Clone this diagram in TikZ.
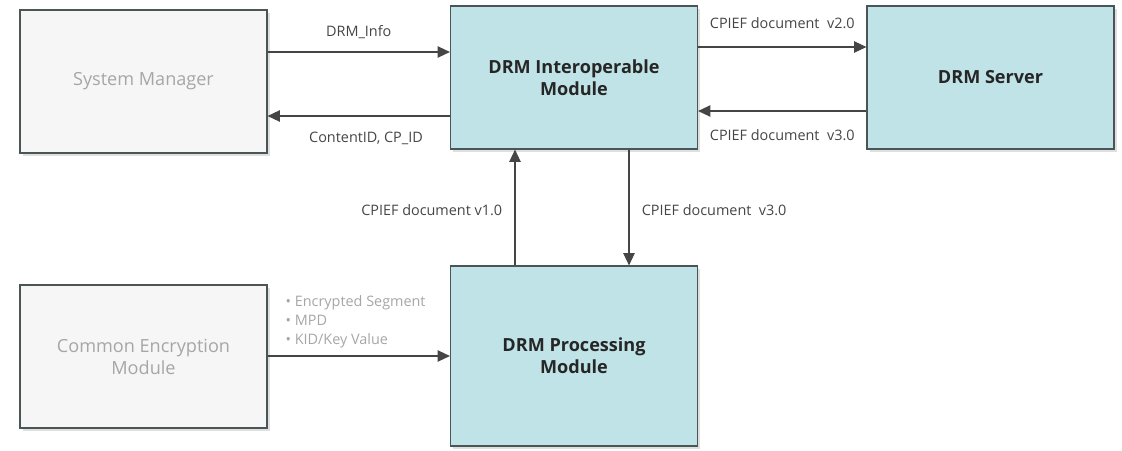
\documentclass[tikz,border=0pt]{standalone}
\usepackage{fontspec}
\setmainfont{Open Sans}
\usetikzlibrary{arrows.meta,positioning,shadows}
\definecolor{boxcyan}{HTML}{BFE3E6}
\definecolor{boxgrey}{HTML}{F6F6F6}
\definecolor{edgegrey}{HTML}{4A5555}
\definecolor{textgrey}{HTML}{A6A6A6}
\definecolor{labelgrey}{HTML}{454545}

\begin{document}
\begin{tikzpicture}
  [x=0.02cm, y=-0.02cm,
   module/.style={shape=rectangle, draw=edgegrey, line width=0.7pt, align=center,
     minimum width=4.94cm, minimum height=2.86cm,
     drop shadow={opacity=0.25, shadow xshift=1.5pt, shadow yshift=-1.5pt}},
   drmbox/.style={module, fill=boxcyan, text=black!85, font=\bfseries\fontsize{10.3}{12.5}\selectfont},
   sidebox/.style={module, fill=boxgrey, text=textgrey, font=\fontsize{10.3}{12.5}\selectfont},
   flow/.style={draw=labelgrey, line width=0.6pt, -{Triangle[length=7pt,width=6.5pt]}},
   flowlabel/.style={text=labelgrey, font=\fontsize{8.2}{10}\selectfont, inner sep=1pt}]
  \useasboundingbox (0,0) rectangle (1122,450);

  % modules
  \node[sidebox] (sysmgr) at (143.5,81.5) {System Manager};
  \node[drmbox] (interop) at (574,77.5) {DRM Interoperable\\Module};
  \node[drmbox] (server) at (990.5,77.5) {DRM Server};
  \node[sidebox] (cenc) at (143.5,356.5) {Common Encryption\\Module};
  \node[drmbox, minimum height=3.6cm] (proc) at (574,356) {DRM Processing\\Module};

  % system manager <-> interoperable module
  \draw[flow] (sysmgr.east |- 0,52) -- (interop.west |- 0,52)
    node[flowlabel, midway, above=6pt] {DRM\_Info};
  \draw[flow] (interop.west |- 0,116) -- (sysmgr.east |- 0,116)
    node[flowlabel, pos=0.46, below=8pt] {ContentID, CP\_ID};

  % interoperable module <-> server
  \draw[flow] (interop.east |- 0,47) -- (server.west |- 0,47)
    node[flowlabel, midway, above=9pt] {CPIEF document\ \ v2.0};
  \draw[flow] (server.west |- 0,111) -- (interop.east |- 0,111)
    node[flowlabel, midway, below=9pt] {CPIEF document\ \ v3.0};

  % interoperable module <-> processing module
  \draw[flow] (proc.north -| 515,0) -- (interop.south -| 515,0)
    node[flowlabel, pos=0.48, left=6pt] {CPIEF document v1.0};
  \draw[flow] (interop.south -| 629,0) -- (proc.north -| 629,0)
    node[flowlabel, pos=0.52, right=6pt] {CPIEF document\ \ v3.0};

  % common encryption -> processing module
  \draw[flow] (cenc.east |- 0,356) -- (proc.west |- 0,356)
    node[flowlabel, pos=0, anchor=south west, xshift=9pt, yshift=3pt, align=left,
      text=textgrey, font=\fontsize{8.2}{11}\selectfont]
      {\textbullet\ Encrypted Segment\\ \textbullet\ MPD\\ \textbullet\ KID/Key Value};
\end{tikzpicture}
\end{document}
